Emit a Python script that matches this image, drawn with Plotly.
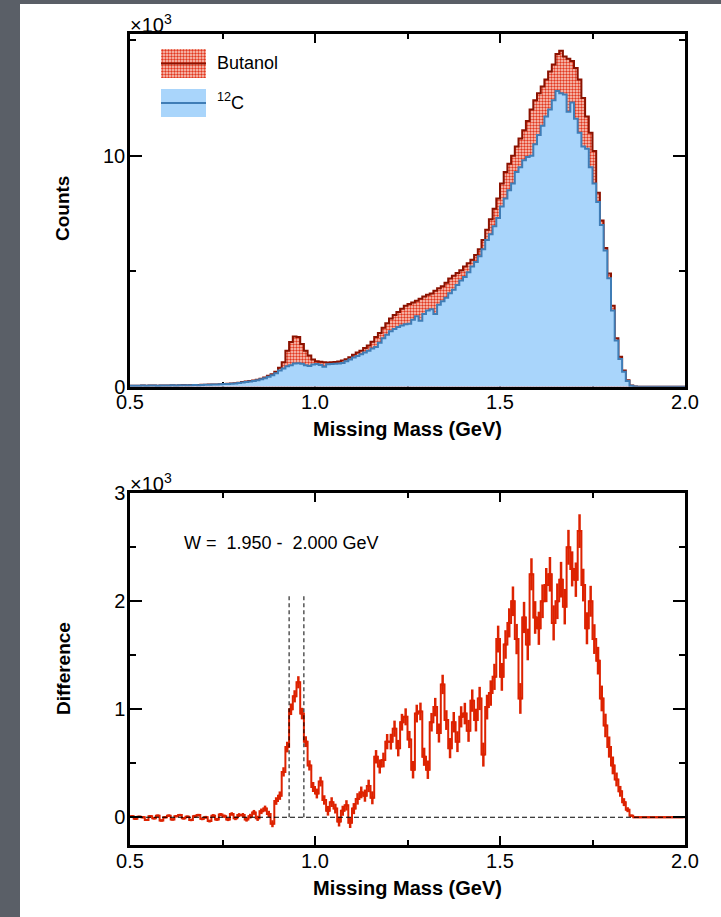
import numpy as np
import plotly.graph_objects as go

# ---------------------------------------------------------------- data
BIN_LO, BIN_WIDTH = 0.5, 0.01  # GeV, missing-mass binning

# Butanol target counts per bin
butanol = [
    40, 45, 40, 50, 45, 50, 55, 45, 50, 55,
    55, 60, 55, 65, 70, 60, 70, 75, 70, 80,
    85, 90, 100, 95, 110, 120, 125, 140, 150, 170,
    200, 220, 250, 270, 300, 340, 400, 470, 540, 650,
    820, 1060, 1560, 1930, 2170, 2150, 1850, 1560, 1350, 1180,
    1100, 1080, 1060, 1050, 1060, 1070, 1090, 1130, 1190, 1270,
    1380, 1480, 1560, 1680, 1780, 1950, 2150, 2320, 2550, 2750,
    2950, 3100, 3230, 3380, 3500, 3580, 3640, 3720, 3810, 3900,
    3980, 4040, 4150, 4260, 4350, 4500, 4680, 4800, 4920, 5040,
    5200, 5350, 5500, 5700, 5950, 6350, 6800, 7250, 7700, 8150,
    8800, 9300, 9650, 10000, 10400, 10750, 11100, 11500, 12000, 12400,
    12700, 13000, 13300, 13650, 13950, 14400, 14550, 14300, 14200, 14100,
    13800, 13300, 12500, 11700, 11000, 10200, 8400, 7200, 6000, 4900,
    3500, 2100, 1300, 700, 280, 50, 5, 0, 0, 0,
    0, 0, 0, 0, 0, 0, 0, 0, 0, 0,
]

# Scaled 12C target counts per bin
carbon = [
    40, 45, 40, 48, 45, 50, 52, 45, 50, 52,
    52, 58, 55, 62, 65, 60, 68, 70, 68, 78,
    80, 85, 95, 90, 105, 115, 120, 130, 140, 160,
    185, 205, 230, 250, 280, 320, 370, 430, 500, 580,
    700, 790, 880, 930, 1000, 1010, 990, 930, 900, 960,
    980, 940, 860, 970, 980, 990, 1000, 1030, 1100, 1180,
    1260, 1330, 1400, 1480, 1560, 1650, 1720, 1900, 2100, 2250,
    2400, 2500, 2580, 2650, 2700, 2720, 2900, 3050, 2850, 3150,
    3300, 3350, 3150, 3550, 3700, 3850, 4050, 4200, 4400, 4600,
    4750, 4950, 5200, 5400, 5650, 5950, 6350, 6600, 6950, 7300,
    7800, 8150, 8500, 8800, 9300, 9500, 9800, 9950, 10000, 10500,
    10900, 11300, 11700, 12000, 12400, 12800, 12700, 12650, 11900, 12300,
    11600, 11000, 10400, 10300, 9500, 8800, 8000, 7000, 5900, 4700,
    3300, 2000, 1200, 650, 250, 40, 5, 0, 0, 0,
    0, 0, 0, 0, 0, 0, 0, 0, 0, 0,
]

# Butanol minus 12C per bin
difference = [
    10, -15, 5, 0, -25, 10, -10, 15, -30, 0,
    15, -20, 10, 20, -10, 5, -25, 10, 20, -15,
    0, -35, 15, -20, 25, 10, -20, 30, -10, 20,
    20, -20, 10, 45, -10, 55, 80, 30, -60, 150,
    200, 420, 650, 1000, 1120, 1250, 960, 700, 480, 280,
    220, 330, 160, 60, 140, 80, -40, 60, 110, -50,
    80, 170, 230, 200, 290, 180, 560, 470, 530, 700,
    700, 820, 640, 880, 930, 720, 440, 960, 980, 560,
    440, 880, 1020, 780, 1230, 900, 640, 880, 700, 930,
    960, 800, 1080, 900, 1100, 580, 1020, 1150, 1300, 1650,
    1300, 1600, 1800, 2000, 1650, 1100, 1850, 1600, 2250, 1850,
    1750, 2000, 2150, 2250, 1800, 2000, 2200, 1950, 2500, 2300,
    2200, 2650, 2150, 1750, 2000, 1650, 1450, 1100, 850, 650,
    480, 350, 240, 140, 70, 15, 0, 0, 0, 0,
    0, 0, 0, 0, 0, 0, 0, 0, 0, 0,
]

X_RANGE = [0.5, 2.0]
X_TICKS = [0.5, 1.0, 1.5, 2.0]
X_TICK_TEXT = ["0.5", "1.0", "1.5", "2.0"]
X_MINOR = [0.75, 1.25, 1.75]

COUNTS_RANGE = [0, 15270]
COUNTS_TICKS = [0, 10000]
COUNTS_TICK_TEXT = ["0", "10"]
COUNTS_MINOR = [5000, 15000]

DIFF_RANGE = [-257, 3000]
DIFF_TICKS = [0, 1000, 2000, 3000]
DIFF_TICK_TEXT = ["0", "1", "2", "3"]
DIFF_MINOR = [500, 1500, 2500]

CUT_LO, CUT_HI, CUT_TOP = 0.93, 0.97, 2050  # nucleon-peak window
W_BIN_TEXT = "W =\u00a0\u00a01.950 -\u00a0\u00a02.000 GeV"
W_TEXT_POS = (0.6405, 2540)

# ---------------------------------------------------------------- geometry
FIG_W, FIG_H = 721, 917
M_L, M_R, M_T, M_B = 130, 36, 34, 72
PLOT_W = FIG_W - M_L - M_R
PLOT_H = FIG_H - M_T - M_B


def px_x(px):
    return (px - M_L) / PLOT_W


def px_y(py):
    return (FIG_H - M_B - py) / PLOT_H


TOP_DOMAIN = [px_y(386.7), 1.0]
BOT_DOMAIN = [0.0, px_y(493.3)]

FONT = "Liberation Sans, Arial, Helvetica, sans-serif"
BUT_EDGE = "#8c1200"
BUT_FG = "#e2381f"
BUT_BG = "#fbd3c9"
C_EDGE = "#3f7db6"
C_FILL = "#a9d5fb"
DIFF_RED = "#dd2200"
SLIDE_GREY = "#5a5f67"

# ---------------------------------------------------------------- derived
b = np.array(butanol, float)
c = np.array(carbon, float)
d = np.array(difference, float)
edges = BIN_LO + BIN_WIDTH * np.arange(len(b) + 1)
centers = edges[:-1] + BIN_WIDTH / 2
err = np.sqrt(b + c)


def step(v):
    return np.append(v, v[-1])


but_pattern = dict(shape=".", fgcolor=BUT_FG, bgcolor=BUT_BG, size=3,
                   solidity=0.5, fillmode="replace")

fig = go.Figure()

# histograms (upper panel)
fig.add_trace(go.Scatter(
    x=edges, y=step(b), mode="lines", line=dict(color=BUT_EDGE, width=2, shape="hv"),
    fill="tozeroy", fillpattern=but_pattern, xaxis="x", yaxis="y",
    showlegend=False, hoverinfo="skip"))
fig.add_trace(go.Scatter(
    x=edges, y=step(c), mode="lines", line=dict(color=C_EDGE, width=2, shape="hv"),
    fill="tozeroy", fillcolor=C_FILL, xaxis="x", yaxis="y",
    showlegend=False, hoverinfo="skip"))

# difference with statistical errors (lower panel)
fig.add_trace(go.Scatter(
    x=centers, y=d, mode="lines", line=dict(color=DIFF_RED, width=2, shape="hvh"),
    error_y=dict(type="data", array=err, width=0, thickness=2.5, color=DIFF_RED),
    error_x=dict(type="constant", value=BIN_WIDTH / 2, width=0, thickness=2, color=DIFF_RED),
    xaxis="x2", yaxis="y2", showlegend=False, hoverinfo="skip"))

# legend swatches drawn in small inset axes
box_x = [0, 1, 1, 0, 0]
box_y = [0, 0, 1, 1, 0]
fig.add_trace(go.Scatter(x=box_x, y=box_y, mode="none", fill="toself",
                         fillpattern=but_pattern, xaxis="x3", yaxis="y3",
                         showlegend=False, hoverinfo="skip"))
fig.add_trace(go.Scatter(x=[0, 1], y=[0.5, 0.5], mode="lines",
                         line=dict(color=BUT_EDGE, width=2), xaxis="x3", yaxis="y3",
                         showlegend=False, hoverinfo="skip"))
fig.add_trace(go.Scatter(x=box_x, y=box_y, mode="none", fill="toself",
                         fillcolor=C_FILL, xaxis="x3", yaxis="y4",
                         showlegend=False, hoverinfo="skip"))
fig.add_trace(go.Scatter(x=[0, 1], y=[0.5, 0.5], mode="lines",
                         line=dict(color=C_EDGE, width=2), xaxis="x3", yaxis="y4",
                         showlegend=False, hoverinfo="skip"))

tickfont = dict(family=FONT, size=20, color="black")


def x_axis(anchor, layer):
    return dict(
        domain=[0, 1], anchor=anchor, range=X_RANGE,
        tickmode="array", tickvals=X_TICKS, ticktext=X_TICK_TEXT,
        ticks="inside", ticklen=9, tickwidth=1.5, tickcolor="black",
        minor=dict(tickmode="array", tickvals=X_MINOR, ticks="inside",
                   ticklen=5, tickwidth=1.5, tickcolor="black"),
        showline=True, linewidth=2.5, linecolor="black", mirror="ticks",
        showgrid=False, zeroline=False, tickfont=tickfont,
        ticklabelstandoff=-4, layer=layer, fixedrange=True)


def y_axis(anchor, domain, rng, ticks, text, minor, layer):
    return dict(
        domain=domain, anchor=anchor, range=rng,
        tickmode="array", tickvals=ticks, ticktext=text,
        ticks="inside", ticklen=12, tickwidth=1.5, tickcolor="black",
        minor=dict(tickmode="array", tickvals=minor, ticks="inside",
                   ticklen=6, tickwidth=1.5, tickcolor="black"),
        showline=True, linewidth=2.5, linecolor="black", mirror="ticks",
        showgrid=False, zeroline=False, tickfont=tickfont,
        ticklabelstandoff=-2, layer=layer, fixedrange=True)


hidden = dict(visible=False, range=[0, 1], fixedrange=True)

annotations = [
    dict(text="\u00d710<sup>3</sup>", xref="paper", yref="paper", x=0, y=TOP_DOMAIN[1],
         xanchor="left", yanchor="bottom", yshift=-4, xshift=-2, showarrow=False,
         font=dict(family=FONT, size=20, color="black")),
    dict(text="\u00d710<sup>3</sup>", xref="paper", yref="paper", x=0, y=BOT_DOMAIN[1],
         xanchor="left", yanchor="bottom", yshift=-4, xshift=-2, showarrow=False,
         font=dict(family=FONT, size=20, color="black")),
    dict(text="<b>Counts</b>", xref="paper", yref="paper", x=px_x(63), y=px_y(209),
         textangle=-90, xanchor="center", yanchor="middle", showarrow=False,
         font=dict(family=FONT, size=19, color="black")),
    dict(text="<b>Difference</b>", xref="paper", yref="paper", x=px_x(63), y=px_y(669),
         textangle=-90, xanchor="center", yanchor="middle", showarrow=False,
         font=dict(family=FONT, size=19, color="black")),
    dict(text="<b>Missing Mass (GeV)</b>", xref="paper", yref="paper", x=0.5, y=px_y(429),
         xanchor="center", yanchor="middle", showarrow=False,
         font=dict(family=FONT, size=20, color="black")),
    dict(text="<b>Missing Mass (GeV)</b>", xref="paper", yref="paper", x=0.5, y=px_y(888),
         xanchor="center", yanchor="middle", showarrow=False,
         font=dict(family=FONT, size=20, color="black")),
    dict(text="Butanol", xref="paper", yref="paper", x=px_x(215), y=px_y(63),
         xanchor="left", yanchor="middle", showarrow=False,
         font=dict(family=FONT, size=18, color="black")),
    dict(text="<sup>12</sup>C", xref="paper", yref="paper", x=px_x(215), y=px_y(101),
         xanchor="left", yanchor="middle", showarrow=False,
         font=dict(family=FONT, size=18, color="black")),
    dict(text=W_BIN_TEXT, xref="x2", yref="y2", x=W_TEXT_POS[0], y=W_TEXT_POS[1],
         xanchor="left", yanchor="middle", showarrow=False,
         font=dict(family=FONT, size=18, color="black")),
]

shapes = [
    # white slide panel
    dict(type="rect", xref="paper", yref="paper", layer="below",
         x0=px_x(20), x1=px_x(FIG_W + 5), y0=px_y(FIG_H + 5), y1=px_y(4),
         fillcolor="white", line=dict(width=0)),
    # zero line and peak window
    dict(type="line", xref="x2", yref="y2", x0=X_RANGE[0], x1=X_RANGE[1], y0=0, y1=0,
         line=dict(color="black", width=1, dash="5px,3px")),
    dict(type="line", xref="x2", yref="y2", x0=CUT_LO, x1=CUT_LO, y0=0, y1=CUT_TOP,
         line=dict(color="black", width=1, dash="4px,3px")),
    dict(type="line", xref="x2", yref="y2", x0=CUT_HI, x1=CUT_HI, y0=0, y1=CUT_TOP,
         line=dict(color="black", width=1, dash="4px,3px")),
]

fig.update_layout(
    width=FIG_W, height=FIG_H,
    margin=dict(l=M_L, r=M_R, t=M_T, b=M_B, pad=0),
    paper_bgcolor=SLIDE_GREY, plot_bgcolor="white",
    font=dict(family=FONT, color="black"),
    xaxis=x_axis("y", "below traces"),
    yaxis=y_axis("x", TOP_DOMAIN, COUNTS_RANGE, COUNTS_TICKS, COUNTS_TICK_TEXT,
                 COUNTS_MINOR, "below traces"),
    xaxis2=x_axis("y2", "above traces"),
    yaxis2=y_axis("x2", BOT_DOMAIN, DIFF_RANGE, DIFF_TICKS, DIFF_TICK_TEXT,
                  DIFF_MINOR, "above traces"),
    xaxis3=dict(hidden, domain=[px_x(161), px_x(206)], anchor="y3"),
    yaxis3=dict(hidden, domain=[px_y(78), px_y(49)], anchor="x3"),
    yaxis4=dict(hidden, domain=[px_y(117), px_y(89)], anchor="x3"),
    annotations=annotations, shapes=shapes, showlegend=False,
)

fig.write_html("out.html")
